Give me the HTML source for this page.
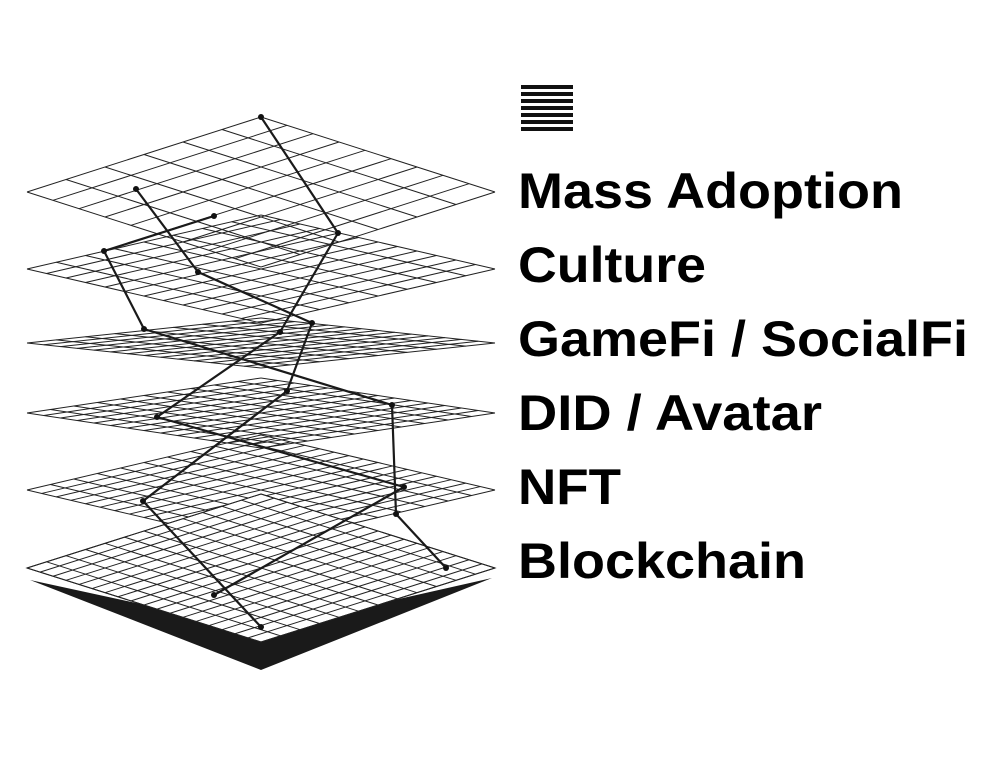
<!DOCTYPE html>
<html><head><style>html,body{margin:0;padding:0;background:#fff}svg{display:block}</style></head>
<body>
<svg id="s" width="1001" height="765" viewBox="0 0 1001 765" xmlns="http://www.w3.org/2000/svg">
<rect width="1001" height="765" fill="#fff"/>
<polygon points="30,580 261,670 492,578 261,630" fill="#1a1a1a"/>
<g id="planes" fill="none" stroke="#222" stroke-width="1"></g>
<g fill="none" stroke="#1a1a1a" stroke-width="2.2" stroke-linejoin="round">
<polyline points="261,117 338,233 280,332 157,417 404,487 214,595"/>
<polyline points="136,189 198,272 312,323 287,391 143,501 261,627"/>
<polyline points="214,216 104,251 144,329 392,405 396,514 446,568"/>
</g>
<g fill="#111">
<circle cx="261" cy="117" r="3"/><circle cx="338" cy="233" r="3"/><circle cx="280" cy="332" r="3"/><circle cx="157" cy="417" r="3"/><circle cx="404" cy="487" r="3"/><circle cx="214" cy="595" r="3"/>
<circle cx="136" cy="189" r="3"/><circle cx="198" cy="272" r="3"/><circle cx="312" cy="323" r="3"/><circle cx="287" cy="391" r="3"/><circle cx="143" cy="501" r="3"/><circle cx="261" cy="627" r="3"/>
<circle cx="214" cy="216" r="3"/><circle cx="104" cy="251" r="3"/><circle cx="144" cy="329" r="3"/><circle cx="392" cy="405" r="3"/><circle cx="396" cy="514" r="3"/><circle cx="446" cy="568" r="3"/>
</g>
<g fill="#111">
<rect x="521" y="85" width="52" height="4"/><rect x="521" y="92" width="52" height="4"/><rect x="521" y="99" width="52" height="4"/><rect x="521" y="106" width="52" height="4"/><rect x="521" y="113" width="52" height="4"/><rect x="521" y="120" width="52" height="4"/><rect x="521" y="127" width="52" height="4"/>
</g>
<g font-family="Liberation Sans, Arial, sans-serif" font-weight="bold" font-size="50" fill="#000">
<text x="518" y="208" textLength="385" lengthAdjust="spacingAndGlyphs">Mass Adoption</text>
<text x="518" y="282" textLength="188" lengthAdjust="spacingAndGlyphs">Culture</text>
<text x="518" y="356" textLength="450" lengthAdjust="spacingAndGlyphs">GameFi / SocialFi</text>
<text x="518" y="430" textLength="304" lengthAdjust="spacingAndGlyphs">DID / Avatar</text>
<text x="518" y="504" textLength="103" lengthAdjust="spacingAndGlyphs">NFT</text>
<text x="518" y="578" textLength="288" lengthAdjust="spacingAndGlyphs">Blockchain</text>
</g>
</svg>
<script>
(function(){
var g=document.getElementById('planes'),ns='http://www.w3.org/2000/svg';
var planes=[[192,75,6,9,0],[269,54,8,12,0],[343,25,8,14,0],[413,35,10,14,0],[490,55,10,16,0],[568,74,12,18,1]];
function L(x1,y1,x2,y2){var l=document.createElementNS(ns,'line');l.setAttribute('x1',x1);l.setAttribute('y1',y1);l.setAttribute('x2',x2);l.setAttribute('y2',y2);g.appendChild(l);}
planes.forEach(function(p){
var cy=p[0],h=p[1],n=p[2],m=p[3];
var T=[261,cy-h],R=[495,cy],B=[261,cy+h],Lf=[27,cy];
if(p[4]){var poly=document.createElementNS(ns,'polygon');
poly.setAttribute('points',T+' '+R+' '+B+' '+Lf);poly.setAttribute('fill','#fff');g.appendChild(poly);}
for(var i=0;i<=n;i++){var t=i/n;
L(Lf[0]+(T[0]-Lf[0])*t,Lf[1]+(T[1]-Lf[1])*t,B[0]+(R[0]-B[0])*t,B[1]+(R[1]-B[1])*t);}
for(var j=0;j<=m;j++){var t=j/m;
L(T[0]+(R[0]-T[0])*t,T[1]+(R[1]-T[1])*t,Lf[0]+(B[0]-Lf[0])*t,Lf[1]+(B[1]-Lf[1])*t);}
});
})();
</script>
</body></html>
